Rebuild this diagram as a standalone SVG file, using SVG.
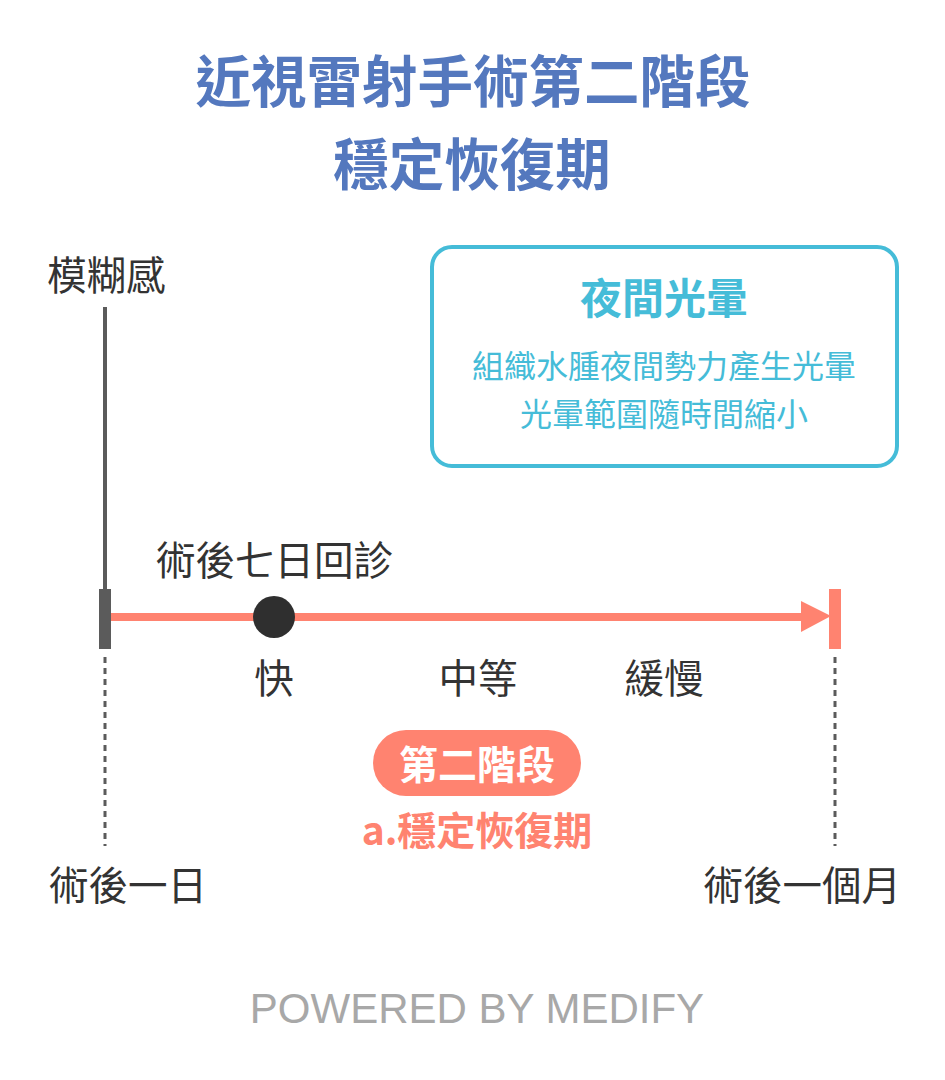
<svg xmlns="http://www.w3.org/2000/svg" width="945" height="1080" viewBox="0 0 945 1080">
<style>
.t{font-family:"Noto Sans CJK TC","Noto Sans CJK SC",sans-serif;}
.title{font-size:55.5px;font-weight:700;fill:#5478BE;text-anchor:middle;}
.lbl{font-size:39.5px;fill:#333333;}
.cy{fill:#45BCD8;text-anchor:middle;}
.co{fill:#FF8370;}
</style>
<rect width="945" height="1080" fill="#FFFFFF"/>
<g id="title">
<text class="t title" x="473" y="102">近視雷射手術第二階段</text>
<text class="t title" x="472" y="185">穩定恢復期</text>
</g>
<g id="connectors">
<line x1="105" y1="307" x2="105" y2="592" stroke="#5B5B5B" stroke-width="4"/>
<line x1="105" y1="657" x2="105" y2="846" stroke="#5B5B5B" stroke-width="3" stroke-dasharray="6,5"/>
<line x1="835" y1="657" x2="835" y2="846" stroke="#5B5B5B" stroke-width="3" stroke-dasharray="6,5"/>
<line x1="110" y1="617" x2="805" y2="617" stroke="#FF8370" stroke-width="8"/>
<polygon points="801,601 831,616 801,632" fill="#FF8370"/>
</g>
<g id="start-marker"><rect x="99" y="589" width="12" height="60" fill="#5B5B5B"/></g>
<g id="end-marker"><rect x="829" y="589" width="12" height="60" fill="#FF8370"/></g>
<g id="day7"><circle cx="274" cy="617" r="21" fill="#2F2F2F"/>
<text class="t lbl" x="156" y="575">術後七日回診</text></g>
<g id="blur"><text class="t lbl" x="47" y="290">模糊感</text></g>
<g id="speeds">
<text class="t lbl" x="274" y="693" text-anchor="middle">快</text>
<text class="t lbl" x="478" y="693" text-anchor="middle">中等</text>
<text class="t lbl" x="664" y="693" text-anchor="middle">緩慢</text>
</g>
<g id="day1"><text class="t lbl" x="49" y="900">術後一日</text></g>
<g id="month1"><text class="t lbl" x="901" y="900" text-anchor="end">術後一個月</text></g>
<g id="halo">
<rect x="432" y="247" width="465" height="219" rx="20" fill="#FFFFFF" stroke="#45BCD8" stroke-width="4"/>
<text class="t cy" x="664" y="314" font-size="42" font-weight="700">夜間光暈</text>
<text class="t cy" x="664" y="378" font-size="32">組織水腫夜間勢力產生光暈</text>
<text class="t cy" x="664" y="426" font-size="32">光暈範圍隨時間縮小</text>
</g>
<g id="stage">
<rect x="373" y="730" width="208" height="66" rx="33" fill="#FF8370"/>
<text class="t" x="477" y="779" font-size="39" font-weight="700" fill="#FFFFFF" text-anchor="middle">第二階段</text>
<text class="t co" x="477" y="845" font-size="39" font-weight="700" text-anchor="middle">a.穩定恢復期</text>
</g>
<g id="footer"><text x="477" y="1023" font-family="Liberation Sans, Arial, sans-serif" font-size="42" fill="#A8A8A8" text-anchor="middle">POWERED BY MEDIFY</text></g>
</svg>
